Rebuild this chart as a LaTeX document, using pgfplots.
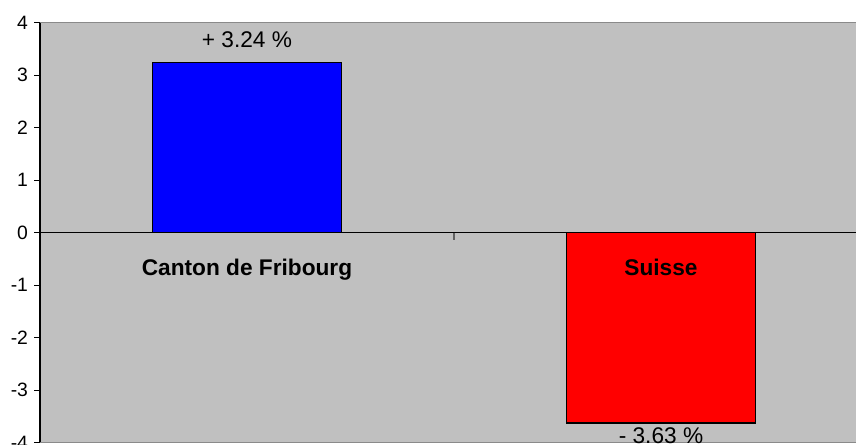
\documentclass[border=0pt]{standalone}
\usepackage{pgfplots}
\pgfplotsset{compat=1.18}
\usepackage{fontspec}
\setmainfont{Liberation Sans}
\definecolor{bg}{HTML}{C0C0C0}
\definecolor{brd}{HTML}{8A8A8A}
\begin{document}
\begin{tikzpicture}
\useasboundingbox (0,0) rectangle (642pt,333.75pt);
\begin{axis}[
  at={(30pt,1.875pt)}, anchor=south west,
  scale only axis, width=621pt, height=315pt,
  xmin=-0.5, xmax=1.5, ymin=-4, ymax=4,
  ytick={-4,-3,-2,-1,0,1,2,3,4}, xtick=\empty,
  axis line style={draw=none},
  axis background/.style={fill=bg},
  tick align=outside, ytick pos=left,
  major tick length=4.5pt,
  tick style={black, line width=0.6pt},
  yticklabel style={font=\fontsize{14.5}{16}\selectfont, xshift=-1pt},
  /pgf/number format/assume math mode=true,
  ybar, bar width=0.4565, clip=false,
]
\addplot[fill=blue, draw=black, line width=0.9pt, bar shift=0pt] coordinates {(0,3.24)};
\addplot[fill=red, draw=black, line width=0.9pt, bar shift=0pt] coordinates {(1,-3.63)};
\draw[brd, line width=1.2pt] (rel axis cs:0,1) -- (rel axis cs:1,1);
\draw[brd, line width=1.2pt] (rel axis cs:0,0) -- (rel axis cs:1,0);
\draw[black, line width=0.8pt] (rel axis cs:0,0) -- (rel axis cs:0,1);
\draw[black, line width=0.8pt] (axis cs:-0.5,0) -- (axis cs:1.5,0);
\draw[brd!70!black, line width=0.8pt] (axis cs:0.5,0) -- ([yshift=-5.5pt]axis cs:0.5,0);
\node[anchor=base, font=\fontsize{17}{19}\selectfont] at (axis cs:0,3.53) {+ 3.24 \%};
\node[anchor=base, font=\fontsize{17}{19}\selectfont] at (axis cs:1,-4.02) {- 3.63 \%};
\node[anchor=base, font=\fontsize{17}{19}\selectfont\bfseries] at (axis cs:0,-0.82) {Canton de Fribourg};
\node[anchor=base, font=\fontsize{17}{19}\selectfont\bfseries] at (axis cs:1,-0.82) {Suisse};
\end{axis}
\end{tikzpicture}
\end{document}
